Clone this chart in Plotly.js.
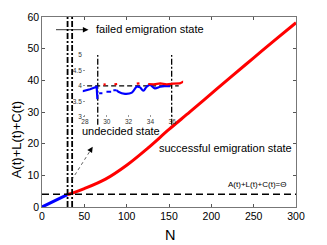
<!DOCTYPE html>
<html>
<head>
<meta charset="utf-8">
<script src="https://cdn.plot.ly/plotly-3.0.1.min.js"></script>
<style>html,body{margin:0;padding:0;background:#fff;}#chart{width:327px;height:245px;}</style>
</head>
<body>
<div id="chart"></div>
<script>
// Main curve
const blueN = [0, 10, 20, 30];
const blueY = [0, 1.3, 2.6, 3.9];
const redN = [30, 35, 50, 75, 100, 125, 150, 175, 200, 225, 250, 275, 300];
const redY = [3.9, 4.3, 5.8, 8.8, 13.2, 18.6, 24.5, 30.1, 35.8, 41.5, 47.1, 52.7, 58.2];
const theta = 4;
const boundaryN = [30.2, 35.6];
const xTicks = [0, 50, 100, 150, 200, 250, 300];
const yTicks = [0, 10, 20, 30, 40, 50, 60];

// Inset
const insetBlueN = [27.7, 27.85, 28.46, 29.07, 29.12, 29.14];
const insetBlueV = [3.82, 3.83, 3.89, 3.97, 3.8, 3.57];
const insetBlueDashN = [29.3, 29.6, null, 29.97, 30.4, null, 30.6, 30.9];
const insetBlueDashV = [3.76, 3.76, null, 3.81, 3.81, null, 3.86, 3.86];
const insetBlue2N = [30.9, 31.06, 31.67, 32.3, 32.74, 33.05, 33.35, 33.66, 33.96, 34.4, 34.9, 35.3, 35.8];
const insetBlue2V = [3.86, 3.81, 3.74, 3.78, 3.97, 3.95, 3.84, 3.97, 4.03, 3.92, 3.97, 3.99, 3.99];
const insetRedN = [29.7, 29.9, null, 30.7, 30.95, null, 32.75, 33.0, null, 33.8, 34.3, 34.9, 35.5, 36.1, 36.7, 37.2];
const insetRedV = [4.04, 4.05, null, 4.05, 4.06, null, 4.07, 4.08, null, 4.06, 4.05, 4.08, 4.05, 4.07, 4.08, 4.17];
const insetBoundaryN = [29.17, 35.95];
const insetXTicks = [28, 30, 32, 34, 36];
const insetYTicks = [3, 3.5, 4, 4.5, 5];

const L = 42, T = 17, W = 254, H = 190;
const px = p => (p - L) / W;
const py = p => (T + H - p) / H;

const font = 'Arial, "Liberation Sans", sans-serif';
const dashdot = '6px,2px,2px,2px';

const traces = [
  {x: blueN, y: blueY, mode: 'lines', line: {color: '#0000ff', width: 3}},
  {x: redN, y: redY, mode: 'lines', line: {color: '#ff0000', width: 3, shape: 'spline', smoothing: 1}},
  {x: [0, 300], y: [theta, theta], mode: 'lines', line: {color: '#000', width: 1.5, dash: '7px,4px'}},
  {x: [boundaryN[0], boundaryN[0]], y: [0, 60], mode: 'lines', line: {color: '#000', width: 1.8, dash: dashdot}},
  {x: [boundaryN[1], boundaryN[1]], y: [0, 60], mode: 'lines', line: {color: '#000', width: 1.8, dash: dashdot}},
  // inset
  {x: [insetBoundaryN[0], insetBoundaryN[0]], y: [2.74, 5], xaxis: 'x2', yaxis: 'y2', mode: 'lines', line: {color: '#000', width: 1.3, dash: dashdot}},
  {x: [insetBoundaryN[1], insetBoundaryN[1]], y: [2.74, 5], xaxis: 'x2', yaxis: 'y2', mode: 'lines', line: {color: '#000', width: 1.3, dash: dashdot}},
  {x: [28.2, 36.6], y: [theta, theta], xaxis: 'x2', yaxis: 'y2', mode: 'lines', line: {color: '#000', width: 1.3, dash: '5px,3px'}},
  {x: insetBlueN, y: insetBlueV, xaxis: 'x2', yaxis: 'y2', mode: 'lines', line: {color: '#0000ff', width: 2.2}},
  {x: insetBlueDashN, y: insetBlueDashV, xaxis: 'x2', yaxis: 'y2', mode: 'lines', connectgaps: false, line: {color: '#0000ff', width: 2}},
  {x: insetBlue2N, y: insetBlue2V, xaxis: 'x2', yaxis: 'y2', mode: 'lines', line: {color: '#0000ff', width: 2.2, shape: 'spline'}},
  {x: insetRedN, y: insetRedV, xaxis: 'x2', yaxis: 'y2', mode: 'lines', connectgaps: false, line: {color: '#ff0000', width: 2.2}}
];

const axBase = {
  showgrid: false, zeroline: false, showline: true, mirror: 'ticks',
  linecolor: '#555', linewidth: 0.8, ticks: 'inside', ticklen: 3, tickcolor: '#555',
  tickfont: {family: font, size: 10.5, color: '#000'}
};

function label(text, x, y, size, extra) {
  return Object.assign({text: text, x: px(x), y: py(y), xref: 'paper', yref: 'paper', showarrow: false,
    xanchor: 'center', yanchor: 'middle', font: {family: font, size: size, color: '#000'}}, extra || {});
}

const layout = {
  width: 327, height: 245,
  margin: {l: L, r: 327 - L - W, t: T, b: 245 - T - H, pad: 0},
  paper_bgcolor: '#fff', plot_bgcolor: 'rgba(0,0,0,0)',
  showlegend: false,
  xaxis: Object.assign({}, axBase, {range: [0, 300], tickvals: xTicks, domain: [0, 1]}),
  yaxis: Object.assign({}, axBase, {range: [0, 60], tickvals: yTicks, domain: [0, 1]}),
  xaxis2: {
    domain: [px(82.8), px(183.1)], range: [27.8, 37], anchor: 'free', position: py(116.7),
    tickvals: insetXTicks, showgrid: false, zeroline: false, showline: false,
    ticks: 'inside', ticklen: 2, tickcolor: '#999',
    tickfont: {family: font, size: 6.5, color: '#333'}
  },
  yaxis2: {
    domain: [py(125.3), py(55)], range: [2.72, 5.0], anchor: 'x2',
    tickvals: insetYTicks, showgrid: false, zeroline: false, showline: false,
    ticks: 'inside', ticklen: 2, tickcolor: '#999',
    tickfont: {family: font, size: 6.5, color: '#333'}
  },
  shapes: [
    {type: 'line', xref: 'paper', yref: 'paper', x0: px(71.7), y0: py(180), x1: px(91.8), y1: py(148.2),
     line: {color: '#333', width: 0.8, dash: 'dot'}}
  ],
  annotations: [
    label('failed emigration state', 149.5, 29.3, 11),
    label('undecided state', 120.5, 131, 11),
    label('successful emigration state', 225.5, 148.3, 11),
    label('A(t)+L(t)+C(t)=Θ', 256.5, 184, 8),
    label('A(t)+L(t)+C(t)', 16.3, 140, 13, {textangle: -90}),
    label('N', 169.5, 235, 14.5),
    {text: '', x: px(88.5), y: py(29.7), xref: 'paper', yref: 'paper', showarrow: true, ax: -34, ay: 0,
     arrowhead: 2, arrowsize: 1.4, arrowwidth: 0.8, arrowcolor: '#000'},
    {text: '', x: px(92.7), y: py(146.7), xref: 'paper', yref: 'paper', showarrow: true, ax: -3.5, ay: 5.5,
     arrowhead: 2, arrowsize: 1.4, arrowwidth: 0.8, arrowcolor: '#000'}
  ]
};

Plotly.newPlot('chart', traces, layout, {staticPlot: true, displayModeBar: false});
</script>
</body>
</html>
